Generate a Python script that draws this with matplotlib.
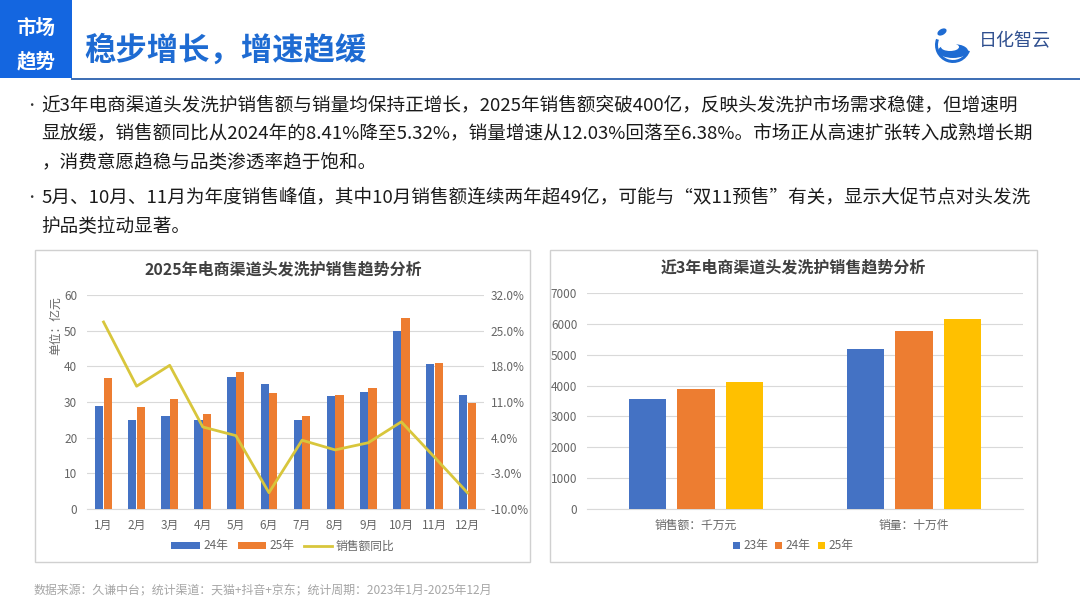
import matplotlib
matplotlib.use("Agg")
import matplotlib.pyplot as plt
import numpy as np
from matplotlib.patches import Rectangle, Patch, Ellipse, Wedge
from matplotlib.lines import Line2D

plt.rcParams['font.family'] = ['Noto Sans CJK SC', 'DejaVu Sans']

# ---------------- data ----------------
months = ['1月', '2月', '3月', '4月', '5月', '6月', '7月', '8月', '9月', '10月', '11月', '12月']
sales_24 = [29.0, 25.0, 26.2, 25.0, 37.0, 35.0, 25.0, 31.6, 32.8, 49.9, 40.6, 31.9]
sales_25 = [36.8, 28.5, 30.9, 26.5, 38.4, 32.5, 26.0, 32.1, 33.8, 53.5, 40.8, 29.8]
yoy_pct = [26.7, 14.1, 18.2, 6.1, 4.4, -6.8, 3.5, 1.6, 3.0, 7.1, 0.2, -6.8]
left_yticks = [0, 10, 20, 30, 40, 50, 60]
right_yticks = [-10, -3, 4, 11, 18, 25, 32]

cat3 = ['销售额：千万元', '销量：十万件']
years3 = ['23年', '24年', '25年']
vals3 = {'23年': [3580, 5170], '24年': [3880, 5780], '25年': [4100, 6160]}
right_chart_yticks = [0, 1000, 2000, 3000, 4000, 5000, 6000, 7000]

header_tag = ['市场', '趋势']
title = '稳步增长，增速趋缓'
body_lines = [
    '近3年电商渠道头发洗护销售额与销量均保持正增长，2025年销售额突破400亿，反映头发洗护市场需求稳健，但增速明',
    '显放缓，销售额同比从2024年的8.41%降至5.32%，销量增速从12.03%回落至6.38%。市场正从高速扩张转入成熟增长期',
    '，消费意愿趋稳与品类渗透率趋于饱和。',
    '5月、10月、11月为年度销售峰值，其中10月销售额连续两年超49亿，可能与“双11预售”有关，显示大促节点对头发洗',
    '护品类拉动显著。',
]
footer = '数据来源：久谦中台；统计渠道：天猫+抖音+京东；统计周期：2023年1月-2025年12月'

# ---------------- style ----------------
W, H = 1080, 608
BLUE = '#4472C4'
ORANGE = '#ED7D31'
GOLD = '#FFC000'
LINEC = '#D8C63C'
TICKC = '#666666'
GRIDC = '#D9D9D9'

fig = plt.figure(figsize=(W / 100, H / 100), dpi=100)
fig.patch.set_facecolor('white')


def rect(x0, y0, x1, y1):
    return [x0 / W, 1 - y1 / H, (x1 - x0) / W, (y1 - y0) / H]


def fx(x):
    return x / W


def fy(y):
    return 1 - y / H


# ---------------- panels (behind everything) ----------------
for (x0, x1) in [(35, 530), (550, 1037)]:
    fig.patches.append(Rectangle((fx(x0), fy(562)), (x1 - x0) / W, (562 - 250) / H,
                                 transform=fig.transFigure, facecolor='white',
                                 edgecolor='#D0D0D0', lw=1.0, zorder=-10))

# ---------------- header ----------------
fig.patches.append(Rectangle((0, fy(78)), fx(72), 78 / H, transform=fig.transFigure,
                             facecolor='#1466E0', edgecolor='none'))
fig.text(fx(36), fy(29), header_tag[0], color='white', fontsize=14, fontweight='bold',
         ha='center', va='center')
fig.text(fx(36), fy(62), header_tag[1], color='white', fontsize=14, fontweight='bold',
         ha='center', va='center')
fig.text(fx(84), fy(51), title, color='#1E6BD2', fontsize=22.6, fontweight='bold',
         ha='left', va='center')
fig.lines.append(Line2D([fx(72), 1], [fy(79), fy(79)], transform=fig.transFigure,
                        color='#3B6DB3', lw=1.4))

# logo
lax = fig.add_axes(rect(928, 18, 978, 68))
lax.set_xlim(0, 50)
lax.set_ylim(50, 0)
lax.set_aspect('equal')
lax.axis('off')
lax.add_patch(Wedge((25, 27), 18, 20, 200, width=3, facecolor='#1E6BD2', edgecolor='none'))
lax.add_patch(Ellipse((25, 33), 30, 14, facecolor='#1E6BD2', edgecolor='none'))
lax.add_patch(Ellipse((22, 29), 18, 8, facecolor='white', edgecolor='none'))
lax.add_patch(Ellipse((14, 14), 10, 6, angle=-30, facecolor='#1E6BD2', edgecolor='none'))
fig.text(fx(979), fy(41), '日化智云', color='#2F4F8F', fontsize=13, ha='left', va='center')

# ---------------- body text ----------------
ys = [105, 134, 163, 197, 226]
for i, (line, y) in enumerate(zip(body_lines, ys)):
    if i in (0, 3):
        fig.text(fx(31), fy(y), '•', color='#333333', fontsize=9, ha='center', va='center')
    fig.text(fx(41), fy(y), line, color='#1A1A1A', fontsize=13.4, ha='left', va='center')

fig.text(fx(33), fy(591), footer, color='#A6A6A6', fontsize=8.6, ha='left', va='center')

# ---------------- left chart ----------------
ax = fig.add_axes(rect(87, 295, 484, 509))
ax.patch.set_alpha(0)
x = np.arange(len(months))
bw = 0.25
ax.bar(x - 0.13, sales_24, width=bw, color=BLUE, zorder=3, label='24年')
ax.bar(x + 0.13, sales_25, width=bw, color=ORANGE, zorder=3, label='25年')
ax.set_xlim(-0.5, len(months) - 0.5)
ax.set_ylim(0, 60)
ax.set_yticks(left_yticks)
ax.set_xticks(x)
ax.set_xticklabels(months)
ax.grid(axis='y', color=GRIDC, lw=0.8, zorder=0)
for s in ax.spines.values():
    s.set_visible(False)
ax.spines['bottom'].set_visible(True)
ax.spines['bottom'].set_color(GRIDC)
ax.tick_params(axis='both', length=0, labelsize=8.5, labelcolor=TICKC, pad=7)
ax.tick_params(axis='y', pad=7)

ax2 = ax.twinx()
ax2.patch.set_alpha(0)
ax2.plot(x, yoy_pct, color=LINEC, lw=2, zorder=4, label='销售额同比')
ax2.set_ylim(-10, 32)
ax2.set_yticks(right_yticks)
ax2.set_yticklabels([f'{v:.1f}%' for v in right_yticks])
for s in ax2.spines.values():
    s.set_visible(False)
ax2.tick_params(axis='y', length=0, labelsize=8.5, labelcolor=TICKC, pad=5)

fig.text(fx(56), fy(326), '单位：亿元', rotation=90, color=TICKC, fontsize=8.5,
         ha='center', va='center')
fig.text(fx(283), fy(270), '2025年电商渠道头发洗护销售趋势分析', color='#404040',
         fontsize=11.5, fontweight='bold', ha='center', va='center')

lh = [Patch(facecolor=BLUE), Patch(facecolor=ORANGE), Line2D([0], [0], color=LINEC, lw=2)]
fig.legend(lh, ['24年', '25年', '销售额同比'], loc='center', bbox_to_anchor=(fx(283), fy(546)),
           ncol=3, frameon=False, fontsize=8.5, handlelength=2.4, handleheight=0.5,
           columnspacing=0.8, handletextpad=0.3, labelcolor=TICKC)

# ---------------- right chart ----------------
bx = fig.add_axes(rect(587, 293, 1023, 509))
bx.patch.set_alpha(0)
xc = np.arange(len(cat3))
step = 0.223
bw3 = 0.17
for k, (yr, col) in enumerate(zip(years3, [BLUE, ORANGE, GOLD])):
    bx.bar(xc + (k - 1) * step, vals3[yr], width=bw3, color=col, zorder=3, label=yr)
bx.set_xlim(-0.5, 1.5)
bx.set_ylim(0, 7000)
bx.set_yticks(right_chart_yticks)
bx.set_xticks(xc)
bx.set_xticklabels(cat3)
bx.grid(axis='y', color=GRIDC, lw=0.8, zorder=0)
for s in bx.spines.values():
    s.set_visible(False)
bx.spines['bottom'].set_visible(True)
bx.spines['bottom'].set_color(GRIDC)
bx.tick_params(axis='both', length=0, labelsize=8.5, labelcolor=TICKC)
bx.tick_params(axis='x', pad=7)
bx.tick_params(axis='y', pad=7)

fig.text(fx(793), fy(267), '近3年电商渠道头发洗护销售趋势分析', color='#404040',
         fontsize=11.5, fontweight='bold', ha='center', va='center')
rh = [Patch(facecolor=c) for c in [BLUE, ORANGE, GOLD]]
fig.legend(rh, years3, loc='center', bbox_to_anchor=(fx(793), fy(546)), ncol=3,
           frameon=False, fontsize=8.5, handlelength=0.6, handleheight=0.6,
           columnspacing=0.6, handletextpad=0.3, labelcolor=TICKC)

fig.savefig('out.png', dpi=100, facecolor='white')
